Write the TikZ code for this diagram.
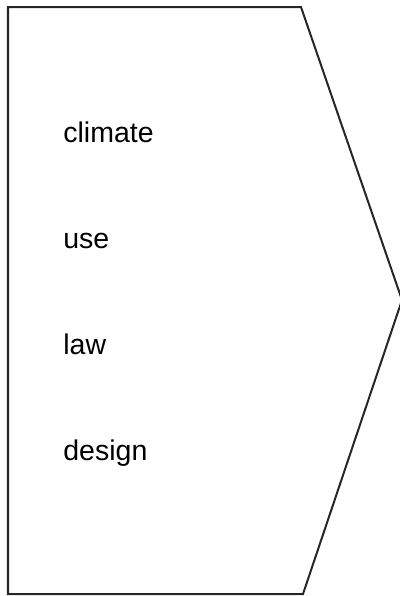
\documentclass[tikz,border=0pt]{standalone}
\usepackage{fontspec}
\setmainfont{Liberation Sans}
\begin{document}
\begin{tikzpicture}[x=0.5pt,y=-0.5pt,
  lbl/.style={anchor=base west,inner sep=0pt,font=\fontsize{14.25}{17}\selectfont}]
\useasboundingbox (0,0) rectangle (400,596);
\begin{scope}
\clip (0,0) rectangle (400,596);
\draw[line width=1pt,draw=black!85] (8,7) -- (301,7) -- (402,300) -- (303,594) -- (8,594) -- cycle;
\end{scope}
\node[lbl] (climate) at (63,142) {climate};
\node[lbl] (use) at (63,248) {use};
\node[lbl] (law) at (63,354) {law};
\node[lbl] (design) at (63,460) {design};
\end{tikzpicture}
\end{document}
